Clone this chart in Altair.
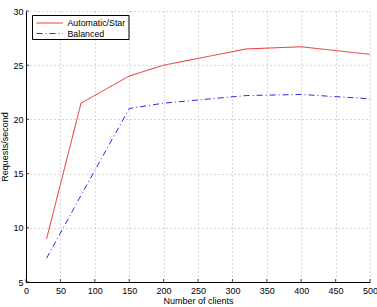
import altair as alt
import pandas as pd

series_names = ["Automatic/Star", "Balanced"]
series_colors = ["#e8282b", "#2b2be8"]
series_dash = [[1, 0], [6, 3, 1, 3]]
star_x = [30, 80, 150, 200, 320, 400, 500]
star_y = [9.0, 21.5, 24.0, 25.0, 26.5, 26.7, 26.0]
bal_x = [30, 80, 150, 200, 320, 400, 500]
bal_y = [7.2, 13.0, 21.0, 21.5, 22.2, 22.3, 21.9]
x_ticks = [0, 50, 100, 150, 200, 250, 300, 350, 400, 450, 500]
y_ticks = [5, 10, 15, 20, 25, 30]

rows = []
for i, (x, y) in enumerate(zip(star_x, star_y)):
    rows.append({"clients": x, "rps": y, "series": series_names[0], "order": i})
for i, (x, y) in enumerate(zip(bal_x, bal_y)):
    rows.append({"clients": x, "rps": y, "series": series_names[1], "order": i})
df = pd.DataFrame(rows)
xt = pd.DataFrame({"clients": x_ticks})
yt = pd.DataFrame({"rps": y_ticks})
one = pd.DataFrame({"k": [0]})

font = "Liberation Sans"
xscale = alt.Scale(domain=[0, 500], nice=False)
yscale = alt.Scale(domain=[5, 30], nice=False)
xaxis = alt.Axis(values=x_ticks, labelFlush=False, labelOverlap=False)
yaxis = alt.Axis(values=y_ticks, labelFlush=False, labelOverlap=False)
xtitle = "Number of clients"
ytitle = "Requests/second"

lines = alt.Chart(df).mark_line(strokeWidth=1).encode(
    x=alt.X("clients:Q", title=xtitle, scale=xscale, axis=xaxis),
    y=alt.Y("rps:Q", title=ytitle, scale=yscale, axis=yaxis),
    color=alt.Color("series:N", legend=None,
                    scale=alt.Scale(domain=series_names, range=series_colors)),
    strokeDash=alt.StrokeDash("series:N", legend=None,
                              scale=alt.Scale(domain=series_names, range=series_dash)),
    order="order:Q",
)

# inward tick marks (MATLAB style)
xtick_marks = alt.Chart(xt).mark_tick(color="black", thickness=1, size=3,
                                      orient="vertical", yOffset=-1.5).encode(
    x=alt.X("clients:Q", title=xtitle, scale=xscale, axis=xaxis),
    y=alt.value("height"),
)
ytick_marks = alt.Chart(yt).mark_tick(color="black", thickness=1, size=3,
                                      orient="horizontal", xOffset=1.5).encode(
    x=alt.value(0),
    y=alt.Y("rps:Q", title=ytitle, scale=yscale, axis=yaxis),
)

# legend box
box = alt.Chart(one).mark_rect(fill="white", stroke="black", strokeWidth=1).encode(
    x=alt.value(6.5), x2=alt.value(103), y=alt.value(4.5), y2=alt.value(28.5),
)
leg_layers = [box]
for i, name in enumerate(series_names):
    yy = 12 + 10.5 * i
    leg_layers.append(
        alt.Chart(one).mark_rule(color=series_colors[i], strokeWidth=1,
                                 strokeDash=series_dash[i]).encode(
            x=alt.value(10.5), x2=alt.value(37), y=alt.value(yy),
        )
    )
    leg_layers.append(
        alt.Chart(one).mark_text(text=name, align="left", baseline="middle",
                                 font=font, fontSize=8.8, color="black").encode(
            x=alt.value(41.5), y=alt.value(yy),
        )
    )

chart = alt.layer(lines, xtick_marks, ytick_marks, *leg_layers).properties(
    width=344, height=271,
    autosize="none",
    padding={"left": 26, "top": 11, "right": 7, "bottom": 25},
).configure_view(stroke=None).configure_axis(
    domainColor="black", domainWidth=1,
    ticks=False, minExtent=0,
    gridColor="#b0b0b0", gridDash=[1, 3], gridWidth=1,
    labelFont=font, labelFontSize=9, labelColor="black",
    titleFont=font, titleFontSize=9, titleColor="black", titleFontWeight="normal",
).configure_axisX(titlePadding=1, labelPadding=4).configure_axisY(titlePadding=3, labelPadding=3)

chart.save("out.html", embed_options={"renderer": "svg", "actions": False})
